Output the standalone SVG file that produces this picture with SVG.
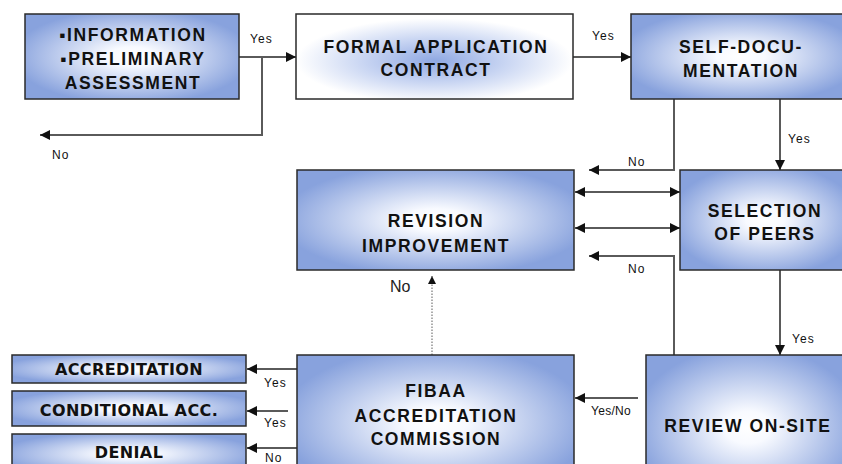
<svg xmlns="http://www.w3.org/2000/svg" width="842" height="464" viewBox="0 0 842 464">
<style>
.box{stroke:#2a2a2a;stroke-width:1.5}
.blue{fill:url(#gBlue)}
.inv{fill:url(#gInv)}
.t{font-family:"Liberation Sans",Arial,sans-serif;font-weight:bold;font-size:17.5px;letter-spacing:1.6px;fill:#111;text-anchor:middle}
.ts{font-family:"DejaVu Sans",Verdana,sans-serif;font-weight:bold;font-size:16px;letter-spacing:0.4px;fill:#111;text-anchor:middle}
.lbl{font-family:"Liberation Sans",Arial,sans-serif;font-size:12px;letter-spacing:1.1px;fill:#111}
.c{fill:none;stroke:#5a5a5a;stroke-width:2}
.d{fill:none;stroke:#777;stroke-width:1.2;stroke-dasharray:1.5 1.5}
</style>
<defs>
<radialGradient id="gBlue" cx="0.5" cy="0.5" r="0.56">
<stop offset="0" stop-color="#ffffff"/>
<stop offset="0.2" stop-color="#f8faff"/>
<stop offset="1" stop-color="#88a2dd"/>
</radialGradient>
<radialGradient id="gInv" cx="0.5" cy="0.55" r="0.5">
<stop offset="0" stop-color="#8fa8e2"/>
<stop offset="0.5" stop-color="#c7d4f2"/>
<stop offset="1" stop-color="#ffffff"/>
</radialGradient>
<marker id="ah" viewBox="0 0 10 10" refX="10" refY="5" markerWidth="5" markerHeight="5" orient="auto-start-reverse" markerUnits="strokeWidth">
<path d="M0,0 L10,5 L0,10 z" fill="#111"/>
</marker>
<marker id="ahd" viewBox="0 0 10 10" refX="10" refY="5" markerWidth="7" markerHeight="7" orient="auto" markerUnits="strokeWidth">
<path d="M0,0 L10,5 L0,10 z" fill="#111"/>
</marker>
</defs>

<g id="connectors">
<path class="c" d="M239,57 H296" marker-end="url(#ah)"/>
<path class="c" d="M262,57 V135 H40" marker-end="url(#ah)"/>
<path class="c" d="M573,57 H631" marker-end="url(#ah)"/>
<path class="c" d="M674,99 V170 H589" marker-end="url(#ah)"/>
<path class="c" d="M780,99 V170" marker-end="url(#ah)"/>
<path class="c" d="M575,192 H680" marker-start="url(#ah)" marker-end="url(#ah)"/>
<path class="c" d="M575,228 H680" marker-start="url(#ah)" marker-end="url(#ah)"/>
<path class="c" d="M674,355 V256 H589" marker-end="url(#ah)"/>
<path class="c" d="M780,270 V355" marker-end="url(#ah)"/>
<path class="c" d="M638,398 H575" marker-end="url(#ah)"/>
<path class="c" d="M297,369 H247" marker-end="url(#ah)"/>
<path class="c" d="M288,411 H247" marker-end="url(#ah)"/>
<path class="c" d="M297,448 H247" marker-end="url(#ah)"/>
<path class="d" d="M432,355 V276" marker-end="url(#ahd)"/>
<text class="lbl" x="250" y="43">Yes</text>
<text class="lbl" x="52" y="159">No</text>
<text class="lbl" x="592" y="40">Yes</text>
<text class="lbl" x="628" y="166">No</text>
<text class="lbl" x="788" y="143">Yes</text>
<text class="lbl" x="628" y="273">No</text>
<text class="lbl" x="792" y="343">Yes</text>
<text class="lbl" x="591" y="415" style="letter-spacing:0.3px">Yes/No</text>
<text class="lbl" x="264" y="387">Yes</text>
<text class="lbl" x="264" y="427">Yes</text>
<text class="lbl" x="265" y="462">No</text>
<text x="390" y="292" style="font-family:'Liberation Sans',Arial,sans-serif;font-size:16px;fill:#222">No</text>
</g>

<g id="info">
<rect class="box blue" x="25" y="14" width="214" height="85"/>
<text class="t" x="133" y="41">▪INFORMATION</text>
<text class="t" x="133" y="65">▪PRELIMINARY</text>
<text class="t" x="133" y="89">ASSESSMENT</text>
</g>
<g id="formal">
<rect class="box inv" x="296" y="14" width="277" height="85"/>
<text class="t" x="436" y="53">FORMAL APPLICATION</text>
<text class="t" x="436" y="76">CONTRACT</text>
</g>
<g id="selfdoc">
<rect class="box blue" x="631" y="14" width="219" height="85"/>
<text class="t" x="741" y="53">SELF-DOCU-</text>
<text class="t" x="741" y="77">MENTATION</text>
</g>
<g id="revision">
<rect class="box blue" x="297" y="170" width="277" height="100"/>
<text class="t" x="436" y="227">REVISION</text>
<text class="t" x="436" y="252">IMPROVEMENT</text>
</g>
<g id="selection">
<rect class="box blue" x="680" y="170" width="170" height="100"/>
<text class="t" x="765" y="217">SELECTION</text>
<text class="t" x="765" y="240">OF PEERS</text>
</g>
<g id="review">
<rect class="box blue" x="646" y="355" width="204" height="145"/>
<text class="t" x="748" y="432">REVIEW ON-SITE</text>
</g>
<g id="fibaa">
<rect class="box blue" x="297" y="355" width="277" height="135"/>
<text class="t" x="436" y="397">FIBAA</text>
<text class="t" x="436" y="422">ACCREDITATION</text>
<text class="t" x="436" y="445">COMMISSION</text>
</g>
<g id="accreditation">
<rect class="box blue" x="12" y="355" width="234" height="28"/>
<text class="ts" x="129" y="375">ACCREDITATION</text>
</g>
<g id="conditional">
<rect class="box blue" x="12" y="391" width="234" height="35"/>
<text class="ts" x="129" y="416">CONDITIONAL ACC.</text>
</g>
<g id="denial">
<rect class="box blue" x="12" y="434" width="234" height="40"/>
<text class="ts" x="129" y="458">DENIAL</text>
</g>
</svg>
